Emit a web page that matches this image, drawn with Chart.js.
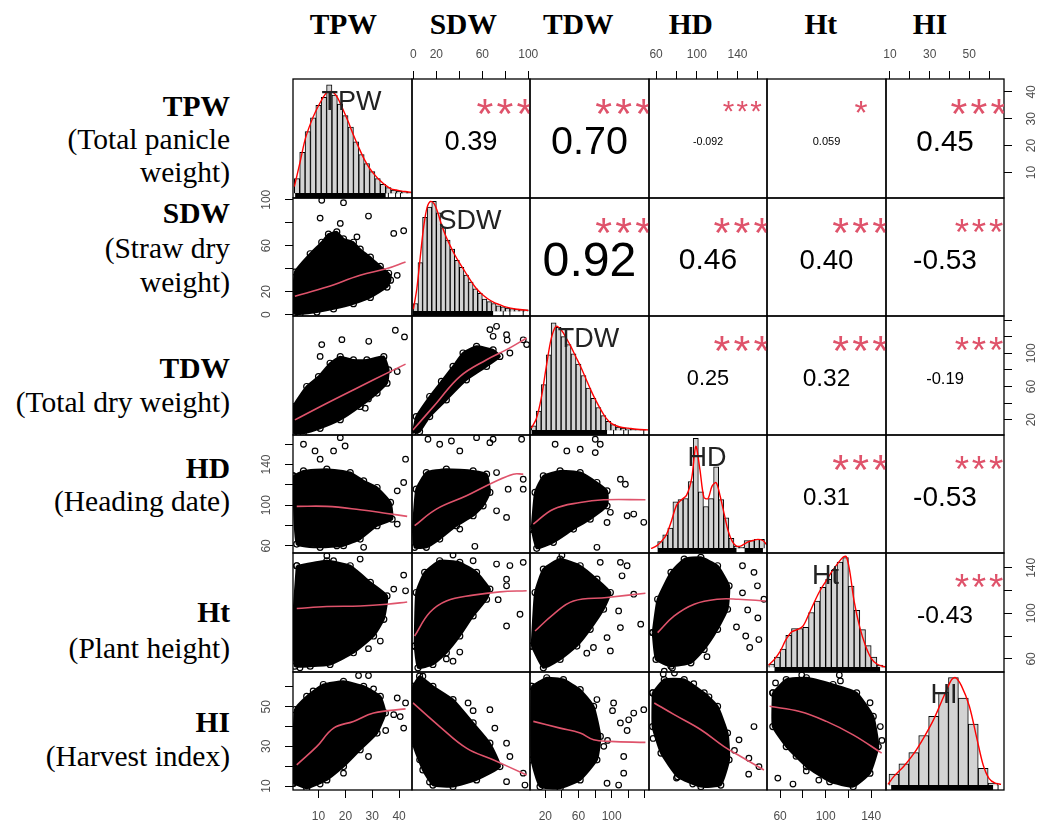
<!DOCTYPE html>
<html><head><meta charset="utf-8"><title>Correlation matrix</title>
<script src="https://cdn.jsdelivr.net/npm/chart.js"></script>
<style>
html,body{margin:0;padding:0;background:#fff;overflow:hidden}
#wrap{position:relative;width:1050px;height:824px;overflow:hidden;background:#fff}
#wrap canvas{position:absolute}
.lab{position:absolute;font-family:"Liberation Serif","Times New Roman",serif;font-size:29.5px;line-height:29.5px;color:#000;white-space:nowrap}
.rl{right:820px;text-align:right}
.b{font-weight:bold}
.hd{width:200px;text-align:center;font-weight:bold}
</style></head><body><div id="wrap"></div><script>
// ---------------- DATA ----------------
const VARS = ['TPW','SDW','TDW','HD','Ht','HI'];
const ROW_TITLES = [['(Total panicle','weight)'],['(Straw dry','weight)'],['(Total dry weight)'],['(Heading date)'],['(Plant height)'],['(Harvest index)']];

// axis ranges
const AXIS_MIN = [0.5, -1.2, 1.5, 53, 48.5, 8];
const AXIS_MAX = [44.8, 101.5, 145, 169, 153, 67.5];

// tick values and labels
const TICKS_TPW = [10,20,30,40];            const TICKLAB_TPW = ['10','20','30','40'];
const TICKS_SDW = [0,20,40,60,80,100];      const TICKLAB_SDW = ['0','20','','60','','100'];
const TICKS_TDW = [20,40,60,80,100,120,140];const TICKLAB_TDW = ['20','','60','','100','',''];
const TICKS_HD  = [60,80,100,120,140,160];  const TICKLAB_HD  = ['60','','100','','140',''];
const TICKS_Ht  = [60,80,100,120,140];      const TICKLAB_Ht  = ['60','','100','','140'];
const TICKS_HI  = [10,20,30,40,50,60];      const TICKLAB_HI  = ['10','','30','','50',''];

// correlations (upper panels)
const CORR_ROW   = [0,0,0,0,0,1,1,1,1,2,2,2,3,3,4];
const CORR_COL   = [1,2,3,4,5,2,3,4,5,3,4,5,4,5,5];
const CORR_TEXT  = ['0.39','0.70','-0.092','0.059','0.45','0.92','0.46','0.40','-0.53','0.25','0.32','-0.19','0.31','-0.53','-0.43'];
const CORR_STARS = ['***','***','***','*','***','***','***','***','***','***','***','***','***','***','***'];

// histograms (bin mid points, bar heights in % of panel height)
const TPW_BIN_MID = [2,4,6,8,10,12,14,16,18,20,22,24,26,28,30,32,34,36,38,40,42,44];
const TPW_BIN_H   = [13,36,54,66,77,84,95,86,78,68,58,45,34,26,19,13,8,5,3,2,1.3,1];
const SDW_BIN_MID = [2,6,10,14,18,22,26,30,34,38,42,46,50,54,58,62,66,70,74,78,82,86,90,94,98];
const SDW_BIN_H   = [7,43,83,92,97,87,74,63,55,45,39,32,26,20,16,11,8.7,7,5,4,3,2.5,2,1.5,1.5];
const TDW_BIN_MID = [6,12,18,24,30,36,42,48,54,60,66,72,78,84,90,96,102,108,114,120,126,132,138];
const TDW_BIN_H   = [4,17,40,66,94,90,82,75,67,58,48,37,28,20,13,8,5,3,2,1.5,1,0.8,0.6];
const HD_BIN_MID  = [64,69,74,79,84,89,94,99,104,109,114,119,124,129,134,139,144,149,154,159,164];
const HD_BIN_H    = [6,12,18,41,43,44,59,97,50,37,44,72,43,27,9,2,1,7,7,8,8];
const Ht_BIN_MID  = [52.5,57.5,62.5,67.5,72.5,77.5,82.5,87.5,92.5,97.5,102.5,107.5,112.5,117.5,122.5,127.5,132.5,137.5,142.5,147.5,152.5];
const Ht_BIN_H    = [3,9,16,28,34,34,35,48,58,70,77,85,92,96,71,50,33,19,9,2,1];
const HI_BIN_MID  = [12,17,22,27,32,37,42,47,52,57,62];
const HI_BIN_H    = [10,19,29,44,61,82,95,77,54,15,2];

// density curves
const TPW_DENS_X = [1,3,5,7,9,11,13,15,17,19,21,23,25,27,29,31,33,35,37,39,41,43,44.5];
const TPW_DENS_Y = [6,26,47,61,72,81,88,89,84,74,63,51,40,30,22,16,11,7,4,3,2,1.5,1];
const SDW_DENS_X = [0,3,6,9,12,15,18,21,24,28,32,36,40,45,50,55,60,65,70,75,80,90,100];
const SDW_DENS_Y = [2,20,48,75,92,97,95,88,78,67,58,50,43,35,27,20,15,11,8,6,4,2,1];
const TDW_DENS_X = [3,9,15,21,27,33,39,45,51,57,63,69,75,81,87,93,100,110,120,130,144];
const TDW_DENS_Y = [2,10,28,55,80,91,88,81,73,64,55,45,35,26,18,11,6,3,2,1,0.5];
const HD_DENS_X  = [55,60,65,70,75,80,85,90,95,99,103,107,111,115,119,123,127,131,135,139,143,147,151,155,160,165,169];
const HD_DENS_Y  = [0,2,6,12,24,38,43,47,62,90,70,45,44,55,58,46,30,15,6,2,2,4,6,7,8,7,3];
const Ht_DENS_X  = [50,55,60,65,70,75,80,85,90,95,100,105,110,115,118,121,125,130,135,140,145,150,153];
const Ht_DENS_Y  = [2,7,14,24,31,33,36,46,57,67,75,83,90,96,97,85,58,35,19,8,3,1,0.5];
const HI_DENS_X  = [9,12,17,22,27,32,37,41,43,46,50,54,57,60,63,66];
const HI_DENS_Y  = [1,8,17,28,42,58,78,93,95,88,70,40,18,6,2,1];

// rug: dense bands [from,to] and isolated ticks
const TPW_RUG_BANDS = [[1.3,35]];            const TPW_RUG_TICKS = [36,38.7,40.5];
const SDW_RUG_BANDS = [[-0.4,69.4]];         const SDW_RUG_TICKS = [78.2,84,95.6];
const TDW_RUG_BANDS = [[3.5,94.4]];          const TDW_RUG_TICKS = [102.3,114.5,120,138.7];
const HD_RUG_BANDS  = [[61.5,139],[147,165]];const HD_RUG_TICKS  = [];
const Ht_RUG_BANDS  = [[55.1,147.8]];        const Ht_RUG_TICKS  = [];
const HI_RUG_BANDS  = [[10.6,62]];           const HI_RUG_TICKS  = [64.5];

// scatter panels: dense core outline, outlying points, smoother
const SDW_TPW_CORE = [[0.6,0.8],[1.2,37],[6.9,53],[11.2,63],[13.7,70],[16.8,72],[19.3,66],[23,63],[25.5,57],[29.3,50],[33,42],[36.1,36],[36.8,30],[35.5,24],[29.3,15],[23,9.5],[15.6,5],[9.4,2.2],[3.1,0.5]];
const SDW_TPW_OUT  = [[10.6,84],[11.2,99.5],[19.3,97.4],[28.6,85.8],[38,70.7],[41.7,73],[39.3,34.2],[36,33],[29.3,18.3],[26.8,15.3],[24.3,67.7],[18.1,79.4]];
const SDW_TPW_FIT  = [[1.2,15.9],[13.1,24],[25.5,34.2],[35.5,40.1],[42.4,45.9]];

const TDW_TPW_CORE = [[0.6,3.6],[0.6,35.8],[5.6,60],[10,72],[14.3,88],[18.1,96],[23,92],[28,92],[34.3,96],[36.1,80],[35.5,64],[31.8,52],[25.5,36],[18.1,20],[10.6,9.6],[4.3,3.6]];
const TDW_TPW_OUT  = [[11.2,110.5],[18.7,116.5],[28.7,114.5],[38.6,127.8],[42,119.8],[10.6,96.3],[27.4,33.8],[28.6,45],[39.3,78.1]];
const TDW_TPW_FIT  = [[1.2,19.7],[13.1,39.8],[25.5,60],[35.5,76.1],[42.4,87]];

const TDW_SDW_CORE = [[-0.4,4.3],[2.5,23.7],[14.2,47.9],[24.4,66.1],[34.5,84.2],[43.2,100.4],[55,108.4],[69.4,104.2],[75.3,96.3],[63.7,84.2],[46.2,68],[28.7,43.8],[14.2,23.7],[5.4,5.5]];
const TDW_SDW_OUT  = [[66.6,128.6],[69.4,120.5],[81.1,122.5],[81.6,116],[95.6,116.3],[98.6,110.5],[84,100.4],[72.4,132.6]];
const TDW_SDW_FIT  = [[-0.4,7.5],[20,39.8],[40.4,72],[63.7,92.3],[81.1,104.4],[98.6,118.5]];

const HD_TPW_CORE = [[0.6,128.8],[4.4,133.7],[13.1,135.4],[21.8,132.1],[26.8,123.9],[31.8,117.4],[36.8,102.7],[37.4,86.3],[31.8,79.8],[25.5,66.7],[19.3,60.2],[10.6,58.6],[1.9,61.8]];
const HD_TPW_OUT  = [[4.4,159.9],[8.7,153.3],[15.6,153.3],[18.1,166.4],[19.9,158.2],[10.6,145.2],[42.4,145.2],[41.7,122.3],[39.3,114.1],[39.3,81.4],[26.8,58.6],[16.8,60]];
const HD_TPW_FIT  = [[1.9,98.8],[13.1,98.8],[25.5,95.5],[35.5,91.9],[43,89]];

const HD_SDW_CORE = [[-0.4,76.5],[2.5,115.7],[11.3,132.1],[28.7,135.4],[52,133.7],[63.7,130.5],[66.6,112.5],[60.7,99.4],[52,89.6],[37.5,79.8],[22.9,66.7],[11.3,58.6],[1.1,58.6]];
const HD_SDW_OUT  = [[12.7,164.8],[22.9,159.9],[33.1,163.1],[40.4,153.3],[55,166.4],[66.6,161.5],[69.4,164.8],[94.2,164.8],[72.4,132.1],[82.5,115.7],[95.6,125.5],[95.6,115.7],[72.4,94.5],[81.1,88],[53.5,59.6],[40.4,76.5]];
const HD_SDW_FIT  = [[1.1,79.8],[20,96.1],[46.2,109.2],[69.4,122.3],[86.9,130.5],[95.6,130.5]];

const HD_TDW_CORE = [[3.5,76.5],[7.6,112.5],[17.6,128.8],[37.8,133.7],[62,132.1],[82.2,122.3],[94.4,114.1],[94.4,99.4],[74.1,86.3],[53.9,76.5],[29.7,63.5],[9.6,57.6]];
const HD_TDW_OUT  = [[31.8,159.9],[45.9,153.3],[62,155],[80.2,164.8],[86.2,159.9],[80.2,151.7],[110.5,125.5],[116.5,120.6],[118.6,89.6],[126.6,91.3],[138.7,83.2],[82.2,58.6],[98.4,93],[94.4,83]];
const HD_TDW_FIT  = [[5.5,81.4],[29.7,96.1],[62,102.7],[90.2,105.3],[140.7,105.3]];

const Ht_TPW_CORE = [[1.9,141.8],[13.1,146.2],[21.8,141.8],[29.3,127.2],[35.5,115.3],[34.3,94.8],[30.5,80.1],[23,65.4],[14.3,55.1],[6.9,53.6],[1.2,53.6],[0.6,94.8]];
const Ht_TPW_OUT  = [[13.1,150.6],[15.6,146.2],[25.5,147.7],[41.7,133.6],[38,121.3],[42.4,119.8],[33,75.7],[28.6,69],[3.1,52.2]];
const Ht_TPW_FIT  = [[1.9,104.2],[13.1,106],[25.5,106.5],[35.5,108],[43,110]];

const Ht_SDW_CORE = [[1.1,71.3],[2.5,118.3],[9.8,136],[22.9,146.2],[40.4,144.8],[55,136],[66.6,121.3],[63.7,112.4],[52,97.7],[40.4,80.1],[28.7,65.4],[17,55.1],[4,52.2]];
const Ht_SDW_OUT  = [[34.5,151.2],[52,146.2],[72.4,143.3],[84,142],[95.6,144.8],[81.1,130],[81.1,124.2],[92.8,99.2],[73.8,112],[81.1,88.9],[40.4,66],[28.7,60],[34.5,58],[20,61]];
const Ht_SDW_FIT  = [[1.1,80.1],[14.2,100.7],[28.7,110.9],[52,116],[75.3,118.9],[98.6,119.8]];

const Ht_TDW_CORE = [[3.5,71.3],[7.6,118.3],[17.6,138.9],[37.8,147.7],[62,141.8],[82.2,130],[98.4,118.3],[90.2,103.6],[74.1,86],[58,71.3],[37.8,59.5],[17.6,52.2]];
const Ht_TDW_OUT  = [[40,151],[86.2,144.8],[110.5,144.8],[118.6,141.8],[112.5,133],[126.6,116.8],[108.4,102.1],[110.5,87.5],[94.4,78.7],[135,90.5],[98.4,67],[70,65],[78,70]];
const Ht_TDW_FIT  = [[7.6,84.5],[29.7,99.2],[53.9,110.9],[94.4,113.9],[140.7,117.7]];

const Ht_HD_CORE = [[56.6,83.1],[61.5,112.4],[74.6,136],[87.6,147.7],[104,149.2],[120.4,141.8],[131.7,124.2],[130.2,103.6],[120.4,86],[107.2,68.3],[94.2,56.6],[74.6,53.6],[59.9,59.5]];
const Ht_HD_OUT  = [[144.9,141.8],[156.2,136],[159.6,124.2],[144.9,118],[166,112.4],[150,103],[160,96],[148.1,80.1],[161,77],[139,88],[152,70],[110,62],[76,52],[68,49.2]];
const Ht_HD_FIT  = [[61.5,83.1],[77.8,97.7],[97.4,108],[120.4,112.4],[140.9,112.4],[167.7,110.9]];

const HI_TPW_CORE = [[0.6,11.4],[1.2,48.5],[5.6,55.2],[11.8,61.2],[19.3,62.8],[26.8,60.3],[33,55.2],[34.9,46.8],[31.8,36.7],[25.5,28.3],[19.3,19.8],[13.1,13.1],[5.6,8.9]];
const HI_TPW_OUT  = [[24.9,65.7],[28.6,65.7],[30.5,59],[39.3,54.4],[42.4,51.9],[40.4,45],[38,46],[41.7,39.2],[35,38],[28.6,24.9],[19.3,16.5],[10.6,11],[8,58]];
const HI_TPW_FIT  = [[1.9,20.7],[9.4,30],[15.6,39.2],[23,42.6],[30.5,46.8],[42.4,48.9]];

const HI_SDW_CORE = [[-0.4,60.3],[5.4,65.4],[17,60.3],[34.5,53.6],[52,41.8],[66.6,31.6],[75.3,19.8],[55,13.1],[34.5,9.7],[17,10.5],[8.3,18.1],[-0.4,31.6]];
const HI_SDW_OUT  = [[8.3,65.4],[47.6,51.9],[52,48],[66.6,48.5],[70.9,39.2],[81.1,31.6],[84,24.9],[95.6,16.5],[97.1,10.5],[81.1,12.2],[66,18],[5.4,23.2],[14,12]];
const HI_SDW_FIT  = [[-0.4,51.9],[22.9,40],[46.2,29.1],[69.4,23.2],[98.6,15.6]];

const HI_TDW_CORE = [[3.5,60.3],[21.7,64.6],[41.8,63.7],[62,58.6],[78.2,50.2],[86.3,35],[82.2,23.2],[62,13.1],[37.8,8.9],[13.6,9.7],[3.5,23.2]];
const HI_TDW_OUT  = [[102.3,51.9],[101,48],[82.2,53.6],[110.5,41.8],[120.5,43.4],[118.6,38],[138.7,48.5],[126.6,46.8],[114.5,24.9],[114.5,16.5],[108.4,10.5],[94.4,11.4],[95,33],[90.5,30]];
const HI_TDW_FIT  = [[5.5,42.6],[37.8,39.2],[62,36.7],[78.2,33.3],[98.4,32.5],[140.7,32]];

const HI_HD_CORE = [[56.6,57],[68,63.7],[87.6,63.7],[107.2,57],[120.4,50.2],[130.2,36.7],[131.7,23.2],[123.6,10.5],[104,9.7],[81.1,14.7],[64.8,26.6],[56.6,40]];
const HI_HD_OUT  = [[67,66.5],[78,67],[97,61.6],[112,55],[156.2,40],[141.5,33.3],[137,28],[151.2,24],[161.1,19.8],[151,16],[57,34],[80,14],[96,11]];
const HI_HD_FIT  = [[58.2,51.9],[77.8,46],[104,38.4],[126.8,29.9],[143.2,24.9],[166,18.1]];

const HI_Ht_CORE = [[53.6,57],[65.4,63.7],[83.1,64.6],[106.5,61.2],[127.2,57],[141.8,45.1],[146.2,29.9],[138.9,16.5],[124.2,9.7],[103.6,12.2],[83.1,19.8],[65.4,29.9],[53.6,40]];
const HI_Ht_OUT  = [[56,62],[79,66],[112,66],[65,40],[74,25],[58,14],[71.3,11],[83,17.6],[94,13],[148,40],[149.4,33],[139,52],[113,63]];
const HI_Ht_FIT  = [[50.7,50.2],[77.2,47.6],[100.7,42.6],[124.2,35.8],[149.2,26.6]];

// ---------------- LAYOUT / STYLE ----------------
const COLX = [293,412,530,649,767,886,1004];
const ROWY = [79,198,316,435,553,672,790];
const M = 40;
const SANS = '"Liberation Sans", Arial, sans-serif';
const RED_R = '#DF536B';
const FULL_W = 100;
const STAR_SCALE = 0.84;
const ROW_BASELINES = [[116.5,149.5,182.5],[224,258.5,293],[378.3,413],[479,511.7],[622.7,658.5],[732.3,767]];
const HEAD_CX = [343.3,463.3,578.3,690.8,820.8,930];
const BASE_OFF = 24.7;

const TICKS = [TICKS_TPW,TICKS_SDW,TICKS_TDW,TICKS_HD,TICKS_Ht,TICKS_HI];
const TICKLABS = [TICKLAB_TPW,TICKLAB_SDW,TICKLAB_TDW,TICKLAB_HD,TICKLAB_Ht,TICKLAB_HI];
const HIST = [[TPW_BIN_MID,TPW_BIN_H],[SDW_BIN_MID,SDW_BIN_H],[TDW_BIN_MID,TDW_BIN_H],[HD_BIN_MID,HD_BIN_H],[Ht_BIN_MID,Ht_BIN_H],[HI_BIN_MID,HI_BIN_H]];
const DENS = [[TPW_DENS_X,TPW_DENS_Y],[SDW_DENS_X,SDW_DENS_Y],[TDW_DENS_X,TDW_DENS_Y],[HD_DENS_X,HD_DENS_Y],[Ht_DENS_X,Ht_DENS_Y],[HI_DENS_X,HI_DENS_Y]];
const RUG = [[TPW_RUG_BANDS,TPW_RUG_TICKS],[SDW_RUG_BANDS,SDW_RUG_TICKS],[TDW_RUG_BANDS,TDW_RUG_TICKS],[HD_RUG_BANDS,HD_RUG_TICKS],[Ht_RUG_BANDS,Ht_RUG_TICKS],[HI_RUG_BANDS,HI_RUG_TICKS]];
const SCAT = {
  '1_0':[SDW_TPW_CORE,SDW_TPW_OUT,SDW_TPW_FIT],
  '2_0':[TDW_TPW_CORE,TDW_TPW_OUT,TDW_TPW_FIT],
  '2_1':[TDW_SDW_CORE,TDW_SDW_OUT,TDW_SDW_FIT],
  '3_0':[HD_TPW_CORE,HD_TPW_OUT,HD_TPW_FIT],
  '3_1':[HD_SDW_CORE,HD_SDW_OUT,HD_SDW_FIT],
  '3_2':[HD_TDW_CORE,HD_TDW_OUT,HD_TDW_FIT],
  '4_0':[Ht_TPW_CORE,Ht_TPW_OUT,Ht_TPW_FIT],
  '4_1':[Ht_SDW_CORE,Ht_SDW_OUT,Ht_SDW_FIT],
  '4_2':[Ht_TDW_CORE,Ht_TDW_OUT,Ht_TDW_FIT],
  '4_3':[Ht_HD_CORE,Ht_HD_OUT,Ht_HD_FIT],
  '5_0':[HI_TPW_CORE,HI_TPW_OUT,HI_TPW_FIT],
  '5_1':[HI_SDW_CORE,HI_SDW_OUT,HI_SDW_FIT],
  '5_2':[HI_TDW_CORE,HI_TDW_OUT,HI_TDW_FIT],
  '5_3':[HI_HD_CORE,HI_HD_OUT,HI_HD_FIT],
  '5_4':[HI_Ht_CORE,HI_Ht_OUT,HI_Ht_FIT]
};

const wrap = document.getElementById('wrap');
const mctx = document.createElement('canvas').getContext('2d');
function textW(s){ mctx.font = '12px ' + SANS; return mctx.measureText(s).width; }
const xy = a => a.map(p => ({x:p[0], y:p[1]}));

// headers and row labels
VARS.forEach((v,k) => {
  const h = document.createElement('div');
  h.className = 'lab hd'; h.textContent = v;
  h.style.left = (HEAD_CX[k]-100)+'px'; h.style.top = (35-BASE_OFF)+'px';
  wrap.appendChild(h);
  [v].concat(ROW_TITLES[k]).forEach((t,n) => {
    const d = document.createElement('div');
    d.className = 'lab rl' + (n===0 ? ' b' : '');
    d.textContent = t;
    d.style.top = (ROW_BASELINES[k][n]-BASE_OFF)+'px';
    wrap.appendChild(d);
  });
});

function axisScale(v, pos) {
  const horiz = pos==='top' || pos==='bottom';
  const labs = TICKLABS[v];
  const widest = Math.max(...labs.map(textW));
  let pad;
  if (pos==='top') pad = 24 - 8 - 7.2;
  else if (pos==='bottom') pad = 26.7 - 8 - 7.2;
  else if (pos==='left') pad = 26.5 - 8 - widest/2;
  else pad = 27.5 - 8 - widest/2;
  return {
    type:'linear', position:pos, min:AXIS_MIN[v], max:AXIS_MAX[v], display:true, offset:false,
    grid:{drawOnChartArea:false, drawTicks:true, tickLength:8, color:'#000', lineWidth:1, offset:false},
    border:{display:false},
    ticks:{autoSkip:false, color:'#4d4d4d', font:{family:SANS, size:12}, padding:pad,
      crossAlign: horiz ? 'near' : 'center',
      minRotation: horiz?0:90, maxRotation: horiz?0:90,
      callback:(val, idx) => labs[idx]},
    afterBuildTicks: s => { s.ticks = TICKS[v].map(t => ({value:t})); },
    afterFit: s => { if (horiz) s.height = M; else s.width = M; }
  };
}
function hiddenScale(min, max, pos){ return {type:'linear', min, max, display:false, position:pos, offset:false, grid:{offset:false}}; }

const boxPlugin = {id:'box', afterDraw(chart){
  const {ctx, chartArea:a} = chart;
  ctx.save(); ctx.strokeStyle = '#000'; ctx.lineWidth = 1.3;
  ctx.strokeRect(a.left, a.top, a.right-a.left, a.bottom-a.top); ctx.restore();
}};
function drawCentered(ctx, s, fs, cx, cy, color, spacing){
  ctx.font = fs.toFixed(2)+'px '+SANS; ctx.fillStyle = color;
  ctx.textAlign = 'center'; ctx.textBaseline = 'alphabetic';
  ctx.letterSpacing = (spacing || 0).toFixed(2) + 'px';
  const m = ctx.measureText(s);
  ctx.fillText(s, cx, cy + (m.actualBoundingBoxAscent - m.actualBoundingBoxDescent)/2);
  ctx.letterSpacing = '0px';
}
function corrPlugin(txt, stars){
  return {id:'corr', afterDraw(chart){
    const {ctx, chartArea:a} = chart;
    const w = a.right-a.left, h = a.bottom-a.top;
    const r = Math.abs(parseFloat(txt));
    ctx.save(); ctx.beginPath(); ctx.rect(a.left, a.top, w, h); ctx.clip();
    ctx.font = '100px '+SANS;
    const full = 100 * FULL_W / ctx.measureText(txt).width;
    drawCentered(ctx, txt, full*(r+0.3)/1.3, a.left+0.5*w, a.top+0.5*h+2, '#000');
    const sfs = full*STAR_SCALE;
    drawCentered(ctx, stars, sfs, a.left+0.8*w, a.top+0.2*h+4, RED_R, 0.389*(1-STAR_SCALE)*full/STAR_SCALE*STAR_SCALE);
    ctx.restore();
  }};
}
function labelPlugin(name){
  return {id:'diaglabel', afterDatasetsDraw(chart){
    const {ctx, chartArea:a} = chart;
    ctx.save();
    drawCentered(ctx, name, 27, (a.left+a.right)/2 - 1, a.top + (a.bottom-a.top)/6 + 2, '#222');
    ctx.restore();
  }};
}

function panel(i, j){
  const x0 = COLX[j], x1 = COLX[j+1], y0 = ROWY[i], y1 = ROWY[i+1];
  const w = x1-x0, h = y1-y0;
  const cv = document.createElement('canvas');
  cv.width = w + 2*M; cv.height = h + 2*M;
  cv.style.left = (x0-M)+'px'; cv.style.top = (y0-M)+'px';
  cv.style.width = cv.width+'px'; cv.style.height = cv.height+'px';
  wrap.appendChild(cv);
  const top = i===0 && j%2===1, bottom = i===5 && j%2===0;
  const left = j===0 && i%2===1, right = j===5 && i%2===0;
  const xs = (top||bottom) ? axisScale(j, top?'top':'bottom') : hiddenScale(AXIS_MIN[j], AXIS_MAX[j], 'bottom');
  let ys;
  if (i===j) ys = hiddenScale(-4, 100, 'left');
  else ys = (left||right) ? axisScale(i, left?'left':'right') : hiddenScale(AXIS_MIN[i], AXIS_MAX[i], 'left');

  const plugins = [boxPlugin];
  let datasets = [];
  let type = 'scatter';
  if (i===j) {
    type = 'bar';
    const [mid, hh] = HIST[i];
    const [dx, dy] = DENS[i];
    const [bands, ticks] = RUG[i];
    datasets.push({type:'line', data: dx.map((x,k)=>({x, y:dy[k]})), borderColor:'#ff0000', borderWidth:1.4,
      pointRadius:0, tension:0.3, fill:false, order:0});
    bands.forEach(b => datasets.push({type:'line', data:[{x:b[0],y:-1.8},{x:b[1],y:-1.8}], borderColor:'#000',
      borderWidth:5, borderCapStyle:'butt', pointRadius:0, fill:false, order:1}));
    if (ticks.length) datasets.push({type:'scatter', data: ticks.map(x=>({x, y:-1.8})), pointStyle:'line', rotation:90,
      pointRadius:2.6, pointBorderWidth:1, pointBorderColor:'#000', order:1});
    datasets.push({type:'bar', data: mid.map((x,k)=>({x, y:hh[k]})), backgroundColor:'#d3d3d3', borderColor:'#000',
      borderWidth:1, barPercentage:1, categoryPercentage:1, borderSkipped:'start', order:3});
    plugins.push(labelPlugin(VARS[i]));
  } else if (i > j) {
    const [core, out, fit] = SCAT[i+'_'+j];
    datasets.push({type:'line', data: xy(fit), borderColor:RED_R, borderWidth:1.6, pointRadius:0, tension:0.4, fill:false, order:0});
    datasets.push({type:'scatter', data: xy(out), pointRadius:2.8, pointBorderWidth:1.2, pointBorderColor:'#000',
      pointBackgroundColor:'rgba(0,0,0,0)', order:1});
    datasets.push({type:'line', data: xy(core.concat([core[0]])), fill:'shape', backgroundColor:'#000', borderColor:'#000',
      borderWidth:2, pointRadius:3, pointBorderWidth:1.2, pointBorderColor:'#000', pointBackgroundColor:'rgba(0,0,0,0)',
      tension:0.15, order:2});
  } else {
    const k = CORR_ROW.findIndex((r,n) => r===i && CORR_COL[n]===j);
    plugins.push(corrPlugin(CORR_TEXT[k], CORR_STARS[k]));
  }

  new Chart(cv, {
    type,
    data: {datasets},
    options: {
      responsive:false, animation:false, events:[], devicePixelRatio:1,
      layout:{padding:{left:left?0:M, right:right?0:M, top:top?0:M, bottom:bottom?0:M}},
      scales:{x:xs, y:ys},
      plugins:{legend:{display:false}, tooltip:{enabled:false}}
    },
    plugins
  });
}

for (let i=0;i<6;i++) for (let j=0;j<6;j++) panel(i,j);
</script></body></html>
